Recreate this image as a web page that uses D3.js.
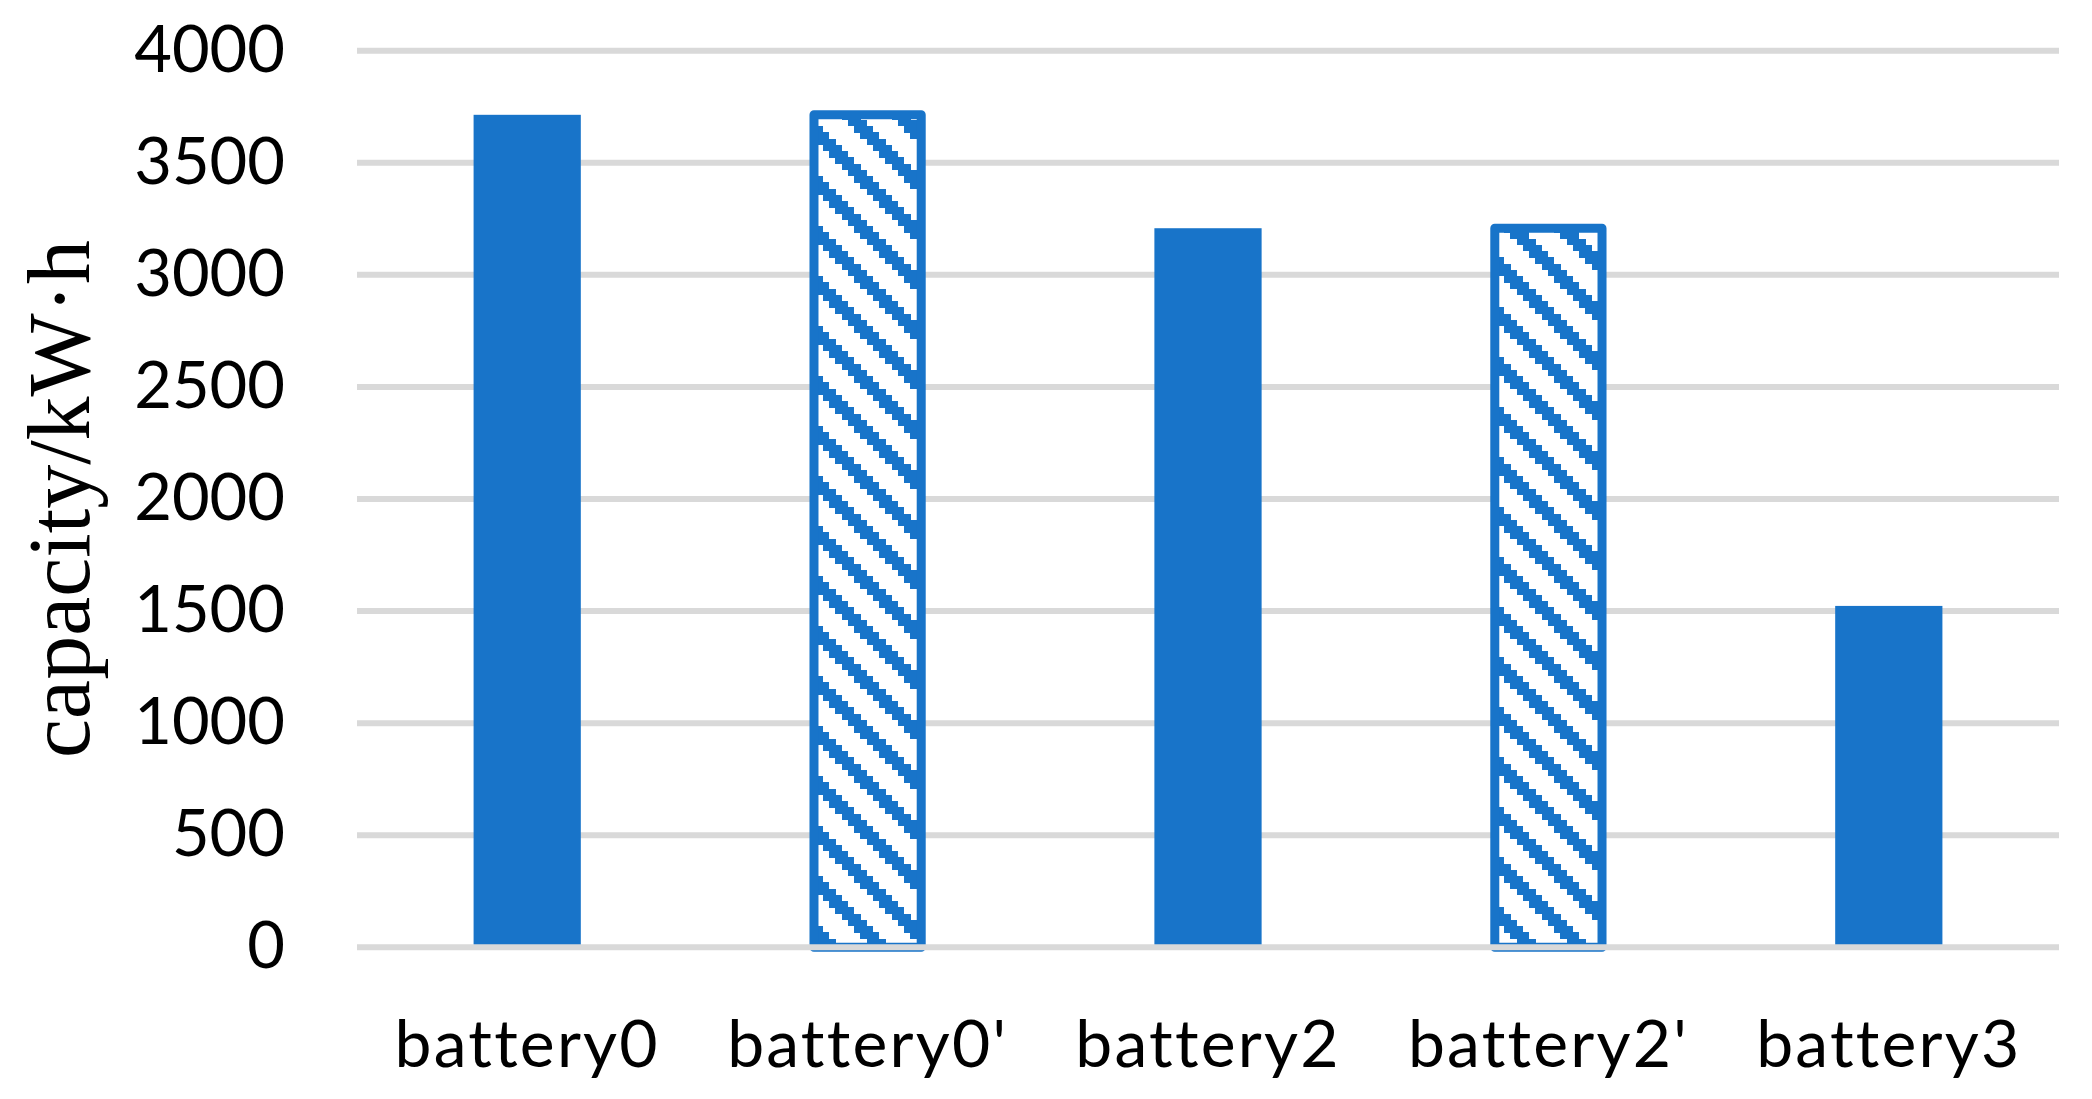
<!DOCTYPE html>
<html>
<head>
<meta charset="utf-8">
<script src="https://cdn.jsdelivr.net/npm/d3@7"></script>
<style>
  html, body { margin: 0; padding: 0; background: #fff; }
  svg { display: block; }
</style>
</head>
<body>
<svg id="chart" width="2092" height="1099"></svg>
<script>
const categories = ["battery0", "battery0'", "battery2", "battery2'", "battery3"];
const capacity = [3714, 3714, 3208, 3208, 1523];
const yTicks = [0, 500, 1000, 1500, 2000, 2500, 3000, 3500, 4000];
const yTitle = "capacity/kW·h";

const W = 2092, H = 1099;
const blue = "#1874C9";
const grid = "#D9D9D9";
const svg = d3.select("#chart");

const x = d3.scaleBand().domain(categories).range([357, 2059]).paddingInner(0.685).paddingOuter(0.3425);
const y = d3.scaleLinear().domain([0, 4000]).range([947.3, 50.7]);

// hatch pattern (wide downward diagonal)
const defs = svg.append("defs");
const cell = 6.25;
const pat = defs.append("pattern").attr("id", "hatch")
  .attr("patternUnits", "userSpaceOnUse")
  .attr("x", 4).attr("y", 26).attr("width", cell * 8).attr("height", cell * 8);
pat.append("rect").attr("width", cell * 8).attr("height", cell * 8).attr("fill", "#fff");
const cells = [];
for (let r = 0; r < 8; r++) for (let k = 0; k < 3; k++) cells.push([(r + k) % 8, r]);
pat.selectAll("rect.c").data(cells).enter().append("rect").attr("class", "c")
  .attr("x", d => d[0] * cell).attr("y", d => d[1] * cell)
  .attr("width", cell + 0.3).attr("height", cell + 0.3)
  .attr("fill", blue).attr("shape-rendering", "crispEdges");

// gridlines (except zero)
svg.append("g").selectAll("line").data(yTicks.filter(t => t !== 0)).enter().append("line")
  .attr("x1", 357).attr("x2", 2059)
  .attr("y1", d => y(d)).attr("y2", d => y(d))
  .attr("stroke", grid).attr("stroke-width", 6);

// bars
const data = categories.map((c, i) => ({ c, v: capacity[i] }));
svg.append("g").selectAll("rect").data(data).enter().append("rect")
  .attr("x", d => x(d.c)).attr("width", x.bandwidth())
  .attr("y", d => y(d.v)).attr("height", d => y(0) - y(d.v))
  .attr("fill", d => d.c.endsWith("'") ? "url(#hatch)" : blue)
  .attr("stroke", d => d.c.endsWith("'") ? blue : "none")
  .attr("stroke-width", 9).attr("stroke-linejoin", "round");

// zero axis line on top
svg.append("line").attr("x1", 357).attr("x2", 2059)
  .attr("y1", y(0)).attr("y2", y(0)).attr("stroke", grid).attr("stroke-width", 6);

// y tick labels
svg.append("g").selectAll("text").data(yTicks).enter().append("text")
  .attr("x", 285).attr("y", d => y(d) + 21)
  .attr("text-anchor", "end")
  .attr("font-family", "Lato, 'Open Sans', sans-serif").attr("font-size", 65)
  .attr("fill", "#000").text(d => d);

// x category labels
svg.append("g").selectAll("text").data(categories).enter().append("text")
  .attr("x", d => x(d) + x.bandwidth() / 2).attr("y", 1067)
  .attr("text-anchor", "middle")
  .attr("font-family", "Lato, 'Open Sans', sans-serif").attr("font-size", 66)
  .attr("letter-spacing", 2.2)
  .attr("fill", "#000").text(d => d);

// y title
svg.append("text")
  .attr("transform", "translate(89,499) rotate(-90)")
  .attr("text-anchor", "middle")
  .attr("font-family", "'Liberation Serif', 'Times New Roman', serif").attr("font-size", 88)
  .attr("fill", "#000").text(yTitle);
</script>
</body>
</html>
